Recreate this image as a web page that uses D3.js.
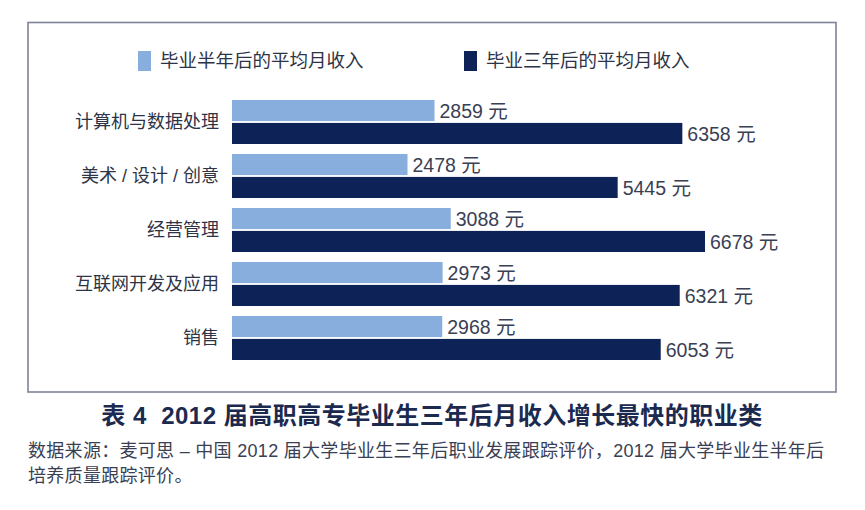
<!DOCTYPE html>
<html>
<head>
<meta charset="utf-8">
<script src="https://cdn.jsdelivr.net/npm/d3@7"></script>
<style>
  html, body { margin: 0; padding: 0; background: #ffffff; }
  svg { display: block; }
  text { font-family: "Liberation Sans", "Noto Sans CJK SC", sans-serif; }
</style>
</head>
<body>
<svg id="chart" width="865" height="510"></svg>
<script>
const categories = ["计算机与数据处理", "美术 / 设计 / 创意", "经营管理", "互联网开发及应用", "销售"];
const seriesNames = ["毕业半年后的平均月收入", "毕业三年后的平均月收入"];
const halfYear = [2859, 2478, 3088, 2973, 2968];
const threeYear = [6358, 5445, 6678, 6321, 6053];
const unit = "元";
const title = "表 4  2012 届高职高专毕业生三年后月收入增长最快的职业类";
const sourceLines = [
  "数据来源：麦可思 – 中国 2012 届大学毕业生三年后职业发展跟踪评价，2012 届大学毕业生半年后",
  "培养质量跟踪评价。"
];
const colors = ["#87aedc", "#0d2358"];

const svg = d3.select("#chart");
const seriesValues = [halfYear, threeYear];

// Frame
svg.append("rect")
  .attr("x", 28).attr("y", 22.5)
  .attr("width", 808).attr("height", 369.5)
  .attr("fill", "none")
  .attr("stroke", "#7d8398")
  .attr("stroke-width", 1.6);

// Scales
const x = d3.scaleLinear()
  .domain([0, d3.max(threeYear)])
  .range([232, 705]);

const y = d3.scaleBand()
  .domain(categories)
  .range([100, 360])
  .paddingInner(0.185)
  .paddingOuter(0);

const inner = d3.scaleBand()
  .domain(d3.range(seriesNames.length))
  .range([0, y.bandwidth()])
  .paddingInner(0.08);

// Legend
const legendX = [138, 464];
const legend = svg.append("g");
seriesNames.forEach((name, i) => {
  legend.append("rect")
    .attr("x", legendX[i]).attr("y", 51)
    .attr("width", 13).attr("height", 20)
    .attr("fill", colors[i]);
  legend.append("text")
    .attr("x", legendX[i] + 22).attr("y", 61)
    .attr("dy", "0.35em")
    .attr("font-size", 18.5)
    .attr("fill", "#2e3447")
    .text(name);
});

// Groups
const groups = svg.append("g").selectAll("g")
  .data(categories)
  .join("g")
  .attr("transform", d => `translate(0,${y(d)})`);

groups.each(function(cat, ci) {
  const g = d3.select(this);
  seriesValues.forEach((vals, si) => {
    const v = vals[ci];
    g.append("rect")
      .attr("x", x(0))
      .attr("y", inner(si))
      .attr("width", x(v) - x(0))
      .attr("height", inner.bandwidth())
      .attr("fill", colors[si]);
    g.append("text")
      .attr("x", x(v) + 5)
      .attr("y", inner(si) + inner.bandwidth() / 2 + 1)
      .attr("dy", "0.35em")
      .attr("font-size", 19.5)
      .attr("fill", "#3a4054")
      .text(v + " " + unit);
  });
});

// Category labels
svg.append("g").selectAll("text")
  .data(categories)
  .join("text")
  .attr("x", 219)
  .attr("y", d => y(d) + y.bandwidth() / 2)
  .attr("dy", "0.35em")
  .attr("text-anchor", "end")
  .attr("font-size", 18)
  .attr("fill", "#2e3447")
  .text(d => d);

// Title
svg.append("text")
  .attr("x", 432).attr("y", 416)
  .attr("dy", "0.35em")
  .attr("text-anchor", "middle")
  .attr("font-size", 24)
  .attr("font-weight", 700)
  .attr("letter-spacing", 0.5)
  .attr("fill", "#1c2a50")
  .attr("xml:space", "preserve")
  .style("white-space", "pre")
  .text(title);

// Source
svg.append("g").selectAll("text")
  .data(sourceLines)
  .join("text")
  .attr("x", 28)
  .attr("y", (d, i) => 451 + i * 25)
  .attr("dy", "0.35em")
  .attr("font-size", 18)
  .attr("letter-spacing", 0.3)
  .attr("fill", "#3a4054")
  .attr("xml:space", "preserve")
  .style("white-space", "pre")
  .text(d => d);
</script>
</body>
</html>
